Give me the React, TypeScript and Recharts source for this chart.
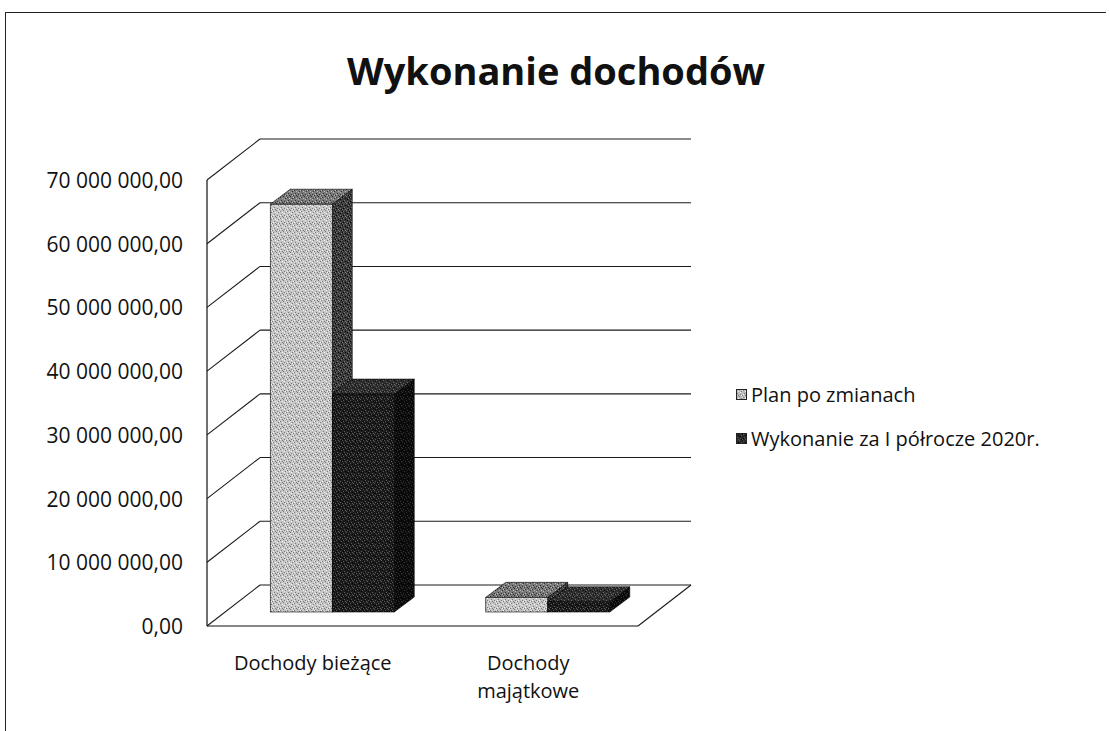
import React from 'react';
import { BarChart, Bar, XAxis, YAxis, CartesianGrid } from 'recharts';

const categories = ['Dochody bieżące', 'Dochody majątkowe'];
const planValues = [64000000, 2300000];
const execValues = [34200000, 1600000];
const yTicks = [0, 10000000, 20000000, 30000000, 40000000, 50000000, 60000000, 70000000];
const seriesNames = ['Plan po zmianach', 'Wykonanie za I półrocze 2020r.'];
const titleText = 'Wykonanie dochodów';

const data = categories.map((name, i) => ({ name, plan: planValues[i], exec: execValues[i] }));

const FONT = '"Open Sans", "Noto Sans", sans-serif';
const WALL_DX = 53;
const WALL_DY = -41;
const BAR_OX = 18;
const BAR_OY = -14;
const BAR_DX = 20;
const BAR_DY = -15;

const fmt = (v: number) => Math.round(v).toString().replace(/\B(?=(\d{3})+(?!\d))/g, ' ') + ',00';

const palettes: Record<string, { front: string; top: string; side: string; dot: string; dot2: string }> = {
  plan: { front: '#c6c6c6', top: '#7a7a7a', side: '#3a3a3a', dot: '#7a7a7a', dot2: '#f2f2f2' },
  exec: { front: '#1c1c1c', top: '#2e2e2e', side: '#0c0c0c', dot: '#5a5a5a', dot2: '#000000' },
};

// fixed stipple positions inside a 7x7 tile (texture style, not data)
const stipple = [
  [0, 1], [3, 0], [5, 2], [1, 4], [4, 5], [6, 6], [2, 6],
];
const stipple2 = [
  [2, 2], [6, 1], [0, 5], [4, 3], [5, 6],
];

const Pattern = ({ id, base, dot, dot2 }: { id: string; base: string; dot: string; dot2: string }) => (
  <pattern id={id} width={7} height={7} patternUnits="userSpaceOnUse">
    <rect width={7} height={7} fill={base} />
    {stipple.map(([a, b], i) => (
      <rect key={'a' + i} x={a} y={b} width={1} height={1} fill={dot} />
    ))}
    {stipple2.map(([a, b], i) => (
      <rect key={'b' + i} x={a} y={b} width={1} height={1} fill={dot2} />
    ))}
  </pattern>
);

const makeShape = (key: string) => (props: any) => {
  const { x, y, width, height } = props;
  if (x == null || y == null) return null;
  const p = palettes[key];
  const fx = x + BAR_OX;
  const fy = y + BAR_OY;
  const w = width;
  const h = Math.max(height, 0);
  const top = `${fx},${fy} ${fx + w},${fy} ${fx + w + BAR_DX},${fy + BAR_DY} ${fx + BAR_DX},${fy + BAR_DY}`;
  const side = `${fx + w},${fy} ${fx + w + BAR_DX},${fy + BAR_DY} ${fx + w + BAR_DX},${fy + BAR_DY + h} ${fx + w},${fy + h}`;
  return (
    <g>
      <defs>
        <Pattern id={`pf-${key}`} base={p.front} dot={p.dot} dot2={p.dot2} />
        <Pattern id={`pt-${key}`} base={p.top} dot={key === 'plan' ? '#333' : '#666'} dot2={key === 'plan' ? '#bbb' : '#111'} />
        <Pattern id={`ps-${key}`} base={p.side} dot={key === 'plan' ? '#777' : '#333'} dot2="#000" />
      </defs>
      <polygon points={side} fill={`url(#ps-${key})`} stroke="#000" strokeWidth={0.6} />
      <polygon points={top} fill={`url(#pt-${key})`} stroke="#000" strokeWidth={0.6} />
      <rect x={fx} y={fy} width={w} height={h} fill={`url(#pf-${key})`} stroke="#000" strokeWidth={0.6} />
    </g>
  );
};

const renderGrid = (props: any) => {
  const { x1, y1, x2, index } = props;
  const bottomY = typeof props.y === 'number' && typeof props.height === 'number' ? props.y + props.height : null;
  const isBottom = bottomY != null ? Math.abs(y1 - bottomY) < 1 : index === 0;
  return (
    <g key={`g-${index}-${y1}`}>
      <line x1={x1} y1={y1} x2={x1 + WALL_DX} y2={y1 + WALL_DY} stroke="#1a1a1a" strokeWidth={1.1} />
      <line x1={x1 + WALL_DX} y1={y1 + WALL_DY} x2={x2 + WALL_DX} y2={y1 + WALL_DY} stroke="#1a1a1a" strokeWidth={1.1} />
      {isBottom ? <line x1={x2} y1={y1} x2={x2 + WALL_DX} y2={y1 + WALL_DY} stroke="#1a1a1a" strokeWidth={1.1} /> : null}
    </g>
  );
};

const YTick = (props: any) => {
  const { x, y, payload } = props;
  return (
    <text x={x} y={y} textAnchor="end" dominantBaseline="central" fontFamily={FONT} fontSize={21} fill="#111">
      {fmt(payload.value)}
    </text>
  );
};

const wrap = (s: string, max: number) => {
  const words = s.split(' ');
  const lines: string[] = [];
  let cur = '';
  words.forEach((w) => {
    const t = cur ? cur + ' ' + w : w;
    if (t.length > max && cur) {
      lines.push(cur);
      cur = w;
    } else cur = t;
  });
  if (cur) lines.push(cur);
  return lines;
};

const XTick = (props: any) => {
  const { x, y, payload } = props;
  const lines = wrap(payload.value, 15);
  return (
    <g>
      {lines.map((l, i) => (
        <text key={i} x={x - 2} y={y + 36 + i * 28} textAnchor="middle" dominantBaseline="central" fontFamily={FONT} fontSize={20} fill="#111">
          {l}
        </text>
      ))}
    </g>
  );
};

const LegendIcon = ({ k }: { k: string }) => {
  const p = palettes[k];
  return (
    <svg width={11} height={11} style={{ marginRight: 4 }}>
      <defs>
        <Pattern id={`pl-${k}`} base={k === 'plan' ? '#bdbdbd' : '#2a2a2a'} dot={p.dot} dot2={p.dot2} />
      </defs>
      <rect x={0.5} y={0.5} width={10} height={10} fill={`url(#pl-${k})`} stroke="#222" strokeWidth={1} />
    </svg>
  );
};

export default function App() {
  const keys = ['plan', 'exec'];
  return (
    <div style={{ position: 'absolute', left: 0, top: 0, width: 1110, height: 731, background: '#fff', overflow: 'hidden' }}>
      <div style={{ position: 'absolute', left: 5, top: 12, width: 1100, height: 730, borderTop: '1.5px solid #222', borderLeft: '1.5px solid #222' }} />
      <div style={{ position: 'absolute', left: 0, top: 38, width: 1112, textAlign: 'center', fontFamily: FONT, fontWeight: 700, fontSize: 38, color: '#111', lineHeight: '64px' }}>
        {titleText}
      </div>
      <div style={{ position: 'absolute', left: 0, top: 0 }}>
        <BarChart width={1110} height={731} data={data} margin={{ top: 180, right: 472, bottom: 0, left: 107 }} barGap={0} barCategoryGap="21%">
          <CartesianGrid vertical={false} horizontal={renderGrid} />
          <XAxis dataKey="name" axisLine={{ stroke: '#111', strokeWidth: 1.2 }} tickLine={false} tickSize={0} tickMargin={0} tick={<XTick />} interval={0} height={105} />
          <YAxis width={100} domain={[0, 70000000]} ticks={yTicks} axisLine={{ stroke: '#111', strokeWidth: 1.2 }} tickLine={false} tickSize={0} tickMargin={24} tick={<YTick />} interval={0} />
          <Bar dataKey="plan" name={seriesNames[0]} fill={palettes.plan.front} shape={makeShape('plan')} isAnimationActive={false} />
          <Bar dataKey="exec" name={seriesNames[1]} fill={palettes.exec.front} shape={makeShape('exec')} isAnimationActive={false} />
        </BarChart>
      </div>
      <div style={{ position: 'absolute', left: 736, top: 372, fontFamily: FONT, fontSize: 20, color: '#111' }}>
        {seriesNames.map((n, i) => (
          <div key={n} style={{ display: 'flex', alignItems: 'center', height: 44 }}>
            <LegendIcon k={keys[i]} />
            <span>{n}</span>
          </div>
        ))}
      </div>
    </div>
  );
}
